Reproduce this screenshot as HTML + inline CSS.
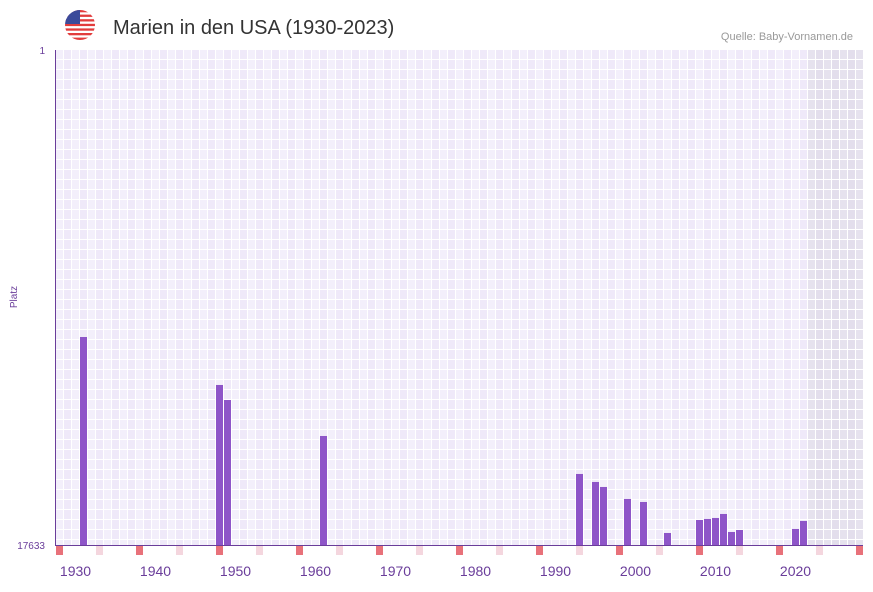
<!DOCTYPE html>
<html><head><meta charset="utf-8"><style>
body{margin:0;background:#fff;width:873px;height:587px;overflow:hidden;font-family:"Liberation Sans",sans-serif}
</style></head><body>
<svg id="chart" width="873" height="587" xmlns="http://www.w3.org/2000/svg">
  <g>
    <clipPath id="fc"><circle cx="80" cy="25" r="15"/></clipPath>
    <g clip-path="url(#fc)">
      <rect x="65" y="10" width="30" height="30" fill="#fff"/>
      <rect x="65" y="10" width="30" height="2.3" fill="#e23c3c"/>
      <rect x="65" y="14.6" width="30" height="2.3" fill="#e23c3c"/>
      <rect x="65" y="19.2" width="30" height="2.3" fill="#e23c3c"/>
      <rect x="65" y="23.8" width="30" height="2.3" fill="#e23c3c"/>
      <rect x="65" y="28.4" width="30" height="2.3" fill="#e23c3c"/>
      <rect x="65" y="33" width="30" height="2.3" fill="#e23c3c"/>
      <rect x="65" y="37.6" width="30" height="2.4" fill="#e23c3c"/>
      <rect x="65" y="10" width="15" height="14" fill="#3b4a9a"/>
    </g>
  </g>
  <text x="113" y="34" font-size="20" fill="#333">Marien in den USA (1930-2023)</text>
  <text x="853" y="40" font-size="11" fill="#999" text-anchor="end">Quelle: Baby-Vornamen.de</text>
  <g id="grid"></g>
  <g id="bars"></g>
  <g id="markers"></g>
  <line x1="55.5" y1="50" x2="55.5" y2="545" stroke="#6a3d9a" stroke-width="1"/>
  <line x1="55" y1="545.5" x2="863" y2="545.5" stroke="#6a3d9a" stroke-width="1"/>
  <text x="45" y="54" font-size="10" fill="#6a3d9a" text-anchor="end">1</text>
  <text x="45" y="549" font-size="10" fill="#6a3d9a" text-anchor="end">17633</text>
  <text x="17" y="297" font-size="10" fill="#6a3d9a" text-anchor="middle" transform="rotate(-90 17 297)">Platz</text>
  <g id="xlabels"></g>
</svg>
<script>
const years = [1931,1948,1949,1961,1993,1995,1996,1999,2001,2004,2008,2009,2010,2011,2012,2013,2020,2021];
const ranks = [10224,11933,12468,13750,15103,15388,15566,15994,16101,17205,16742,16706,16670,16528,17169,17098,17062,16777];
const xTicks = [1930,1940,1950,1960,1970,1980,1990,2000,2010,2020];
const minRank = 1, maxRank = 17633;
const firstYear = 1928, lastYear = 2028, shadeFrom = 2022;

const NS = "http://www.w3.org/2000/svg";
const X0 = 56, CW = 8, Y0 = 50, Y1 = 545;
function xs(y){return X0 + (y - firstYear) * CW;}
function ys(r){return Y0 + (r - minRank) / (maxRank - minRank) * (Y1 - Y0);}
function mk(tag, attrs, parent){const e=document.createElementNS(NS,tag);for(const k in attrs)e.setAttribute(k,attrs[k]);parent.appendChild(e);return e;}

const grid = document.getElementById('grid');
mk('rect',{x:56,y:50,width:807,height:495,fill:'#fff'},grid);
for(let y=firstYear;y<=lastYear;y++){
  const shade = y>=shadeFrom;
  const c = shade ? (y%2? '#e3deec':'#e6e2ee') : (y%2? '#efe9f9':'#f3effb');
  const col = mk('rect',{x:xs(y),y:50,width:7,height:495,fill:c},grid);
  
  
}
for(let yy=59; yy<545; yy+=10){
  const l = mk('rect',{x:56,y:yy,width:807,height:1,fill:'#fff'},grid);
  
  
}

const bars = document.getElementById('bars');
years.forEach((yr,i)=>{
  const top = ys(ranks[i]);
  const b = mk('rect',{x:xs(yr),y:top,width:7,height:Y1-top,fill:'#8e55c8'},bars);
  
  
});

const markers = document.getElementById('markers');
for(let y=firstYear;y<=lastYear;y++){
  if(y%10===8||y%10===3){
    const m = mk('rect',{x:xs(y),y:546,width:7,height:9,fill:y%10===8?'#e8717a':'#f4d6de'},markers);
    
    
  }
}

const xl = document.getElementById('xlabels');
xTicks.forEach(t=>{
  const e = mk('text',{x:xs(t)+3.5,y:576,'font-size':14,fill:'#6a3d9a','text-anchor':'middle'},xl);
  e.textContent = t;
  
  
});
</script>
</body></html>
